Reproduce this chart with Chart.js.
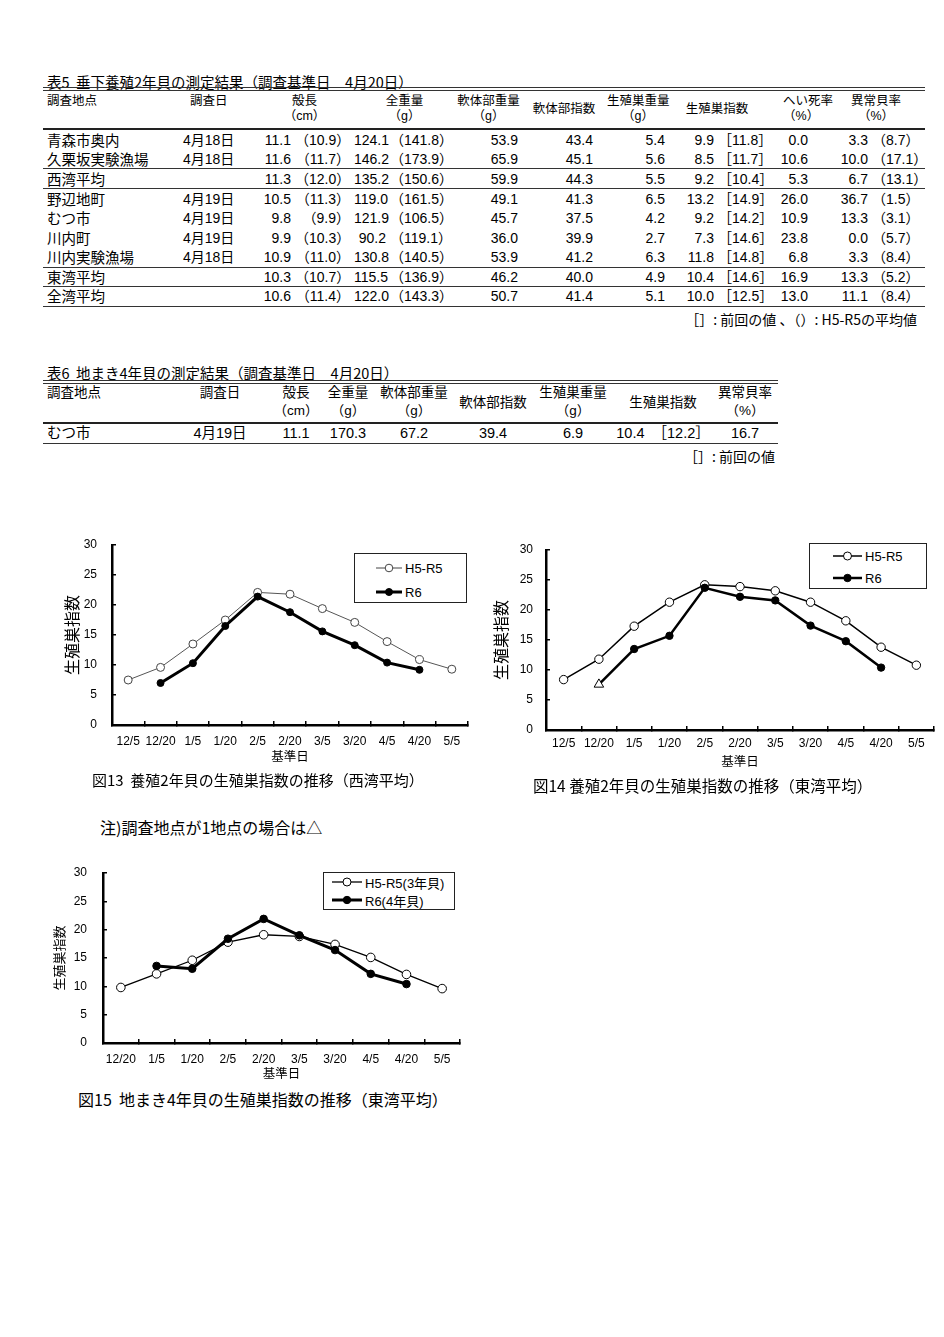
<!DOCTYPE html>
<html lang="ja">
<head>
<meta charset="utf-8">
<title>生殖巣指数の推移</title>
<script src="https://cdn.jsdelivr.net/npm/chart.js@4.4.1/dist/chart.umd.min.js"></script>
<style>
  body { margin: 0; width: 944px; height: 1337px; background: #fff; position: relative; color: #000;
         font-family: "Liberation Sans", "Noto Sans CJK JP", sans-serif; }
  .abs { position: absolute; white-space: nowrap; }
  table { border-collapse: collapse; table-layout: fixed; }
  td, th { padding: 0; white-space: nowrap; font-weight: normal; }

  /* 表5 */
  #t5 { border-top: 4px double #333; }
  #t5 thead th { height: 34px; font-size: 12.5px; line-height: 15px; vertical-align: top; padding-top: 3px; }
  #t5 thead th.mid { vertical-align: middle; padding-top: 0; height: 37px; }
  #t5 thead tr { border-bottom: 2px solid #222; }
  #t5 tbody td { height: 19.8px; font-size: 14px; line-height: 18px; text-align: right; padding-right: 4px; overflow: hidden; }
  #t5 tbody td.name { text-align: left; padding: 0 0 0 4px; font-size: 14.5px; font-family: "Noto Sans CJK JP", sans-serif; }
  #t5 tbody td.date { text-align: left; padding: 0 0 0 3px; }
  #t5 tbody tr.end td { height: 18.5px; }
  #t5 tbody tr.end { border-bottom: 1.5px solid #333; }

  /* 表6 */
  #t6 { border-top: 4px double #333; }
  #t6 thead th { height: 38px; font-size: 13.5px; line-height: 18px; vertical-align: top; text-align: center; }
  #t6 thead th.mid { vertical-align: middle; }
  #t6 thead tr { border-bottom: 2px solid #222; }
  #t6 tbody td { height: 19px; font-size: 14.5px; line-height: 19px; text-align: center; }
  #t6 tbody tr { border-bottom: 1.5px solid #333; }

  .legend { position: absolute; border: 1px solid #222; background: #fff; box-sizing: border-box; }
  .lg-row { display: flex; align-items: center; white-space: nowrap; }
  .lg-row svg { display: block; }
  canvas { position: absolute; }
</style>
</head>
<body>

<!-- 表5 -->
<div class="abs" style="left:47px; top:71px; font-size:14.5px; font-family:'Noto Sans CJK JP',sans-serif;">表5&nbsp;&nbsp;垂下養殖2年貝の測定結果（調査基準日　4月20日）</div>
<table id="t5" class="abs" style="left:43px; top:87px; width:882px;">
  <colgroup>
    <col style="width:137px"><col style="width:75px"><col style="width:40px"><col style="width:59px">
    <col style="width:36px"><col style="width:65px"><col style="width:67px"><col style="width:75px">
    <col style="width:72px"><col style="width:49px"><col style="width:47px"><col style="width:47px">
    <col style="width:60px"><col style="width:53px">
  </colgroup>
  <thead>
    <tr>
      <th style="text-align:left; padding-left:4px;">調査地点</th>
      <th style="text-align:left; padding-left:10px;">調査日</th>
      <th colspan="2">殻長<br>（cm）</th>
      <th colspan="2">全重量<br>（g）</th>
      <th>軟体部重量<br>（g）</th>
      <th class="mid" style="padding-left:9px;">軟体部指数</th>
      <th style="padding-left:10px;">生殖巣重量<br>（g）</th>
      <th colspan="2" class="mid">生殖巣指数</th>
      <th style="padding-left:18px;">へい死率<br>（%）</th>
      <th colspan="2" style="padding-left:15px;">異常貝率<br>（%）</th>
    </tr>
  </thead>
  <tbody>
    <tr><td class="name">青森市奥内</td><td class="date">4月18日</td><td>11.1</td><td>（10.9）</td><td>124.1</td><td>（141.8）</td><td>53.9</td><td>43.4</td><td>5.4</td><td>9.9</td><td>［11.8］</td><td>0.0</td><td>3.3</td><td style="padding-right:8px">（8.7）</td></tr>
    <tr class="end"><td class="name">久栗坂実験漁場</td><td class="date">4月18日</td><td>11.6</td><td>（11.7）</td><td>146.2</td><td>（173.9）</td><td>65.9</td><td>45.1</td><td>5.6</td><td>8.5</td><td>［11.7］</td><td>10.6</td><td>10.0</td><td style="padding-right:8px">（17.1）</td></tr>
    <tr class="end"><td class="name">西湾平均</td><td class="date"></td><td>11.3</td><td>（12.0）</td><td>135.2</td><td>（150.6）</td><td>59.9</td><td>44.3</td><td>5.5</td><td>9.2</td><td>［10.4］</td><td>5.3</td><td>6.7</td><td style="padding-right:8px">（13.1）</td></tr>
    <tr><td class="name">野辺地町</td><td class="date">4月19日</td><td>10.5</td><td>（11.3）</td><td>119.0</td><td>（161.5）</td><td>49.1</td><td>41.3</td><td>6.5</td><td>13.2</td><td>［14.9］</td><td>26.0</td><td>36.7</td><td style="padding-right:8px">（1.5）</td></tr>
    <tr><td class="name">むつ市</td><td class="date">4月19日</td><td>9.8</td><td>（9.9）</td><td>121.9</td><td>（106.5）</td><td>45.7</td><td>37.5</td><td>4.2</td><td>9.2</td><td>［14.2］</td><td>10.9</td><td>13.3</td><td style="padding-right:8px">（3.1）</td></tr>
    <tr><td class="name">川内町</td><td class="date">4月19日</td><td>9.9</td><td>（10.3）</td><td>90.2</td><td>（119.1）</td><td>36.0</td><td>39.9</td><td>2.7</td><td>7.3</td><td>［14.6］</td><td>23.8</td><td>0.0</td><td style="padding-right:8px">（5.7）</td></tr>
    <tr class="end"><td class="name">川内実験漁場</td><td class="date">4月18日</td><td>10.9</td><td>（11.0）</td><td>130.8</td><td>（140.5）</td><td>53.9</td><td>41.2</td><td>6.3</td><td>11.8</td><td>［14.8］</td><td>6.8</td><td>3.3</td><td style="padding-right:8px">（8.4）</td></tr>
    <tr class="end"><td class="name">東湾平均</td><td class="date"></td><td>10.3</td><td>（10.7）</td><td>115.5</td><td>（136.9）</td><td>46.2</td><td>40.0</td><td>4.9</td><td>10.4</td><td>［14.6］</td><td>16.9</td><td>13.3</td><td style="padding-right:8px">（5.2）</td></tr>
    <tr class="end"><td class="name">全湾平均</td><td class="date"></td><td>10.6</td><td>（11.4）</td><td>122.0</td><td>（143.3）</td><td>50.7</td><td>41.4</td><td>5.1</td><td>10.0</td><td>［12.5］</td><td>13.0</td><td>11.1</td><td style="padding-right:8px">（8.4）</td></tr>
  </tbody>
</table>
<div class="abs" style="right:27px; top:309px; font-size:14px; font-family:'Noto Sans CJK JP',sans-serif;">［］: 前回の値 、（）: H5-R5の平均値</div>

<!-- 表6 -->
<div class="abs" style="left:47px; top:362px; font-size:14.5px; font-family:'Noto Sans CJK JP',sans-serif;">表6&nbsp;&nbsp;地まき4年貝の測定結果（調査基準日　4月20日）</div>
<table id="t6" class="abs" style="left:43px; top:380px; width:735px;">
  <colgroup>
    <col style="width:127px"><col style="width:100px"><col style="width:52px"><col style="width:52px">
    <col style="width:80px"><col style="width:78px"><col style="width:82px"><col style="width:98px"><col style="width:66px">
  </colgroup>
  <thead>
    <tr>
      <th style="text-align:left; padding-left:4px;">調査地点</th>
      <th>調査日</th>
      <th>殻長<br>（cm）</th>
      <th>全重量<br>（g）</th>
      <th>軟体部重量<br>（g）</th>
      <th class="mid">軟体部指数</th>
      <th>生殖巣重量<br>（g）</th>
      <th class="mid">生殖巣指数</th>
      <th>異常貝率<br>（%）</th>
    </tr>
  </thead>
  <tbody>
    <tr><td style="text-align:left; padding-left:4px;">むつ市</td><td>4月19日</td><td>11.1</td><td>170.3</td><td>67.2</td><td>39.4</td><td>6.9</td><td>10.4&nbsp;&nbsp;［12.2］</td><td>16.7</td></tr>
  </tbody>
</table>
<div class="abs" style="right:169px; top:446px; font-size:14px; font-family:'Noto Sans CJK JP',sans-serif;">［］: 前回の値</div>

<!-- 図13 -->
<canvas id="fig13" width="430" height="235" style="left:50px; top:535px;"></canvas>
<div id="lg13" class="legend" style="left:354px; top:553px; width:113px; height:50px; padding:2px 0 0 21px;"></div>
<div class="abs" style="left:92px; top:769px; font-size:15px; font-family:'Noto Sans CJK JP',sans-serif;">図13&nbsp;&nbsp;養殖2年貝の生殖巣指数の推移（西湾平均）</div>

<!-- 図14 -->
<canvas id="fig14" width="459" height="235" style="left:485px; top:540px;"></canvas>
<div id="lg14" class="legend" style="left:809px; top:543px; width:118px; height:46px; padding:1px 0 0 23px;"></div>
<div class="abs" style="left:533px; top:774px; font-size:15.5px; font-family:'Noto Sans CJK JP',sans-serif;">図14 養殖2年貝の生殖巣指数の推移（東湾平均）</div>

<div class="abs" style="left:100px; top:815px; font-size:16px; font-family:'Noto Sans CJK JP',sans-serif;">注)調査地点が1地点の場合は△</div>

<!-- 図15 -->
<canvas id="fig15" width="430" height="225" style="left:50px; top:862px;"></canvas>
<div id="lg15" class="legend" style="left:323px; top:872px; width:132px; height:38px; padding:0 0 0 8px;"></div>
<div class="abs" style="left:78px; top:1087px; font-size:16px; font-family:'Noto Sans CJK JP',sans-serif;">図15&nbsp;&nbsp;地まき4年貝の生殖巣指数の推移（東湾平均）</div>

<script>
// ── Data ────────────────────────────────────────────────────────────────────
const dates2yr = ['12/5', '12/20', '1/5', '1/20', '2/5', '2/20', '3/5', '3/20', '4/5', '4/20', '5/5'];
const dates4yr = ['12/20', '1/5', '1/20', '2/5', '2/20', '3/5', '3/20', '4/5', '4/20', '5/5'];

// 図13 西湾平均 (養殖2年貝)
const westPast = [7.5, 9.6, 13.5, 17.5, 22.1, 21.8, 19.4, 17.1, 13.9, 10.9, 9.3];
const westR6   = [null, 7.0, 10.3, 16.5, 21.4, 18.8, 15.6, 13.3, 10.4, 9.2, null];

// 図14 東湾平均 (養殖2年貝)
const eastPast = [8.4, 11.8, 17.3, 21.3, 24.2, 23.9, 23.2, 21.3, 18.2, 13.8, 10.8];
const eastR6   = [null, 7.6, 13.5, 15.7, 23.7, 22.2, 21.6, 17.4, 14.8, 10.4, null];
const eastR6SingleSite = ['12/20'];   // 調査地点が1地点 → △

// 図15 東湾平均 (地まき4年貝)
const jimakiPast = [9.8, 12.2, 14.6, 17.8, 19.1, 18.8, 17.4, 15.1, 12.1, 9.6];
const jimakiR6   = [null, 13.6, 13.1, 18.4, 21.9, 19.0, 16.4, 12.2, 10.4, null];

const yTicks = { min: 0, max: 30, step: 5 };

Chart.defaults.font.family = '"Liberation Sans", "Noto Sans CJK JP", sans-serif';
Chart.defaults.color = '#000';

// ── Shared options ──────────────────────────────────────────────────────────
// axis boxes get fixed sizes so the plot area lands where the original has it
function lineOptions(c) {
  return {
    responsive: false,
    animation: false,
    layout: { padding: { top: c.padTop, right: c.padRight, left: 0, bottom: 0 } },
    plugins: { legend: { display: false }, tooltip: { enabled: false } },
    scales: {
      x: {
        offset: true,
        grid: { offset: true, drawOnChartArea: false, tickLength: -4, color: '#000', lineWidth: 1.5 },
        border: { color: '#000', width: 2.5 },
        ticks: { font: { size: 12 }, padding: c.xTickPad, maxRotation: 0, autoSkip: false },
        title: { display: true, text: '基準日', font: { size: 12.5 }, padding: { top: 0, bottom: c.xTitlePad } },
        afterFit: s => {
          s.height = c.xHeight;
          s.paddingLeft = 0; s.paddingRight = 0;
        },
      },
      y: {
        min: yTicks.min,
        max: yTicks.max,
        ticks: { stepSize: yTicks.step, font: { size: 12 }, padding: c.yTickPad },
        grid: { drawOnChartArea: false, tickLength: -4, color: '#000', lineWidth: 1.5 },
        border: { color: '#000', width: 2.5 },
        title: { display: true, text: '生殖巣指数', font: { size: c.yTitleSize },
                 padding: { top: c.yTitlePad, bottom: 0 } },
        afterFit: s => {
          s.width = c.yWidth;
          s.paddingTop = 0; s.paddingBottom = 0;
        },
      },
    },
  };
}

function pastSet(data, st) {
  return {
    label: 'H5-R5', data, order: 1,
    borderColor: st.line, borderWidth: st.lw,
    pointRadius: st.r, pointBackgroundColor: '#fff', pointBorderColor: st.point, pointBorderWidth: 1,
    tension: 0,
  };
}

function r6Set(data, st) {
  return {
    label: 'R6', data, order: 0,
    borderColor: '#000', borderWidth: st.lw,
    pointRadius: st.r, pointBackgroundColor: st.fill || '#000', pointBorderColor: '#000',
    pointBorderWidth: 1, pointStyle: st.style || 'circle',
    tension: 0,
  };
}

// ── Legends (HTML) ──────────────────────────────────────────────────────────
function buildLegend(id, rowH, lineW, fontSize, items) {
  const box = document.getElementById(id);
  items.forEach(it => {
    const row = document.createElement('div');
    row.className = 'lg-row';
    row.style.height = rowH + 'px';
    row.innerHTML =
      `<svg width="${lineW}" height="12"><line x1="0" y1="6" x2="${lineW}" y2="6" stroke="${it.color}" stroke-width="${it.lw}"/>` +
      `<circle cx="${lineW / 2}" cy="6" r="${it.r}" fill="${it.fill}" stroke="${it.color}" stroke-width="1"/></svg>` +
      `<span style="margin-left:3px; font-size:${fontSize}px;">${it.label}</span>`;
    box.appendChild(row);
  });
}

// ── 図13 ────────────────────────────────────────────────────────────────────
new Chart(document.getElementById('fig13'), {
  type: 'line',
  data: {
    labels: dates2yr,
    datasets: [
      pastSet(westPast, { line: '#555', point: '#444', lw: 1, r: 4 }),
      r6Set(westR6, { lw: 3, r: 3.5 }),
    ],
  },
  options: lineOptions({ padTop: 10, padRight: 12, yWidth: 62, xHeight: 45,
                         xTickPad: 13.8, xTitlePad: 4.5, yTickPad: 19, yTitleSize: 16, yTitlePad: 14.4 }),
});
buildLegend('lg13', 24, 26, 13, [
  { label: 'H5-R5', color: '#444', lw: 1, r: 3.8, fill: '#fff' },
  { label: 'R6', color: '#000', lw: 3, r: 3.5, fill: '#000' },
]);

// ── 図14 ────────────────────────────────────────────────────────────────────
new Chart(document.getElementById('fig14'), {
  type: 'line',
  data: {
    labels: dates2yr,
    datasets: [
      pastSet(eastPast, { line: '#000', point: '#000', lw: 1.5, r: 4.2 }),
      r6Set(eastR6, {
        lw: 2.5,
        r: dates2yr.map(d => eastR6SingleSite.includes(d) ? 5.5 : 3.7),
        fill: dates2yr.map(d => eastR6SingleSite.includes(d) ? '#fff' : '#000'),
        style: dates2yr.map(d => eastR6SingleSite.includes(d) ? 'triangle' : 'circle'),
      }),
    ],
  },
  options: lineOptions({ padTop: 10, padRight: 10, yWidth: 61, xHeight: 45,
                         xTickPad: 10.8, xTitlePad: 4.8, yTickPad: 17, yTitleSize: 16, yTitlePad: 8.4 }),
});
buildLegend('lg14', 22, 29, 13, [
  { label: 'H5-R5', color: '#000', lw: 1.5, r: 4, fill: '#fff' },
  { label: 'R6', color: '#000', lw: 2.5, r: 3.7, fill: '#000' },
]);

// ── 図15 ────────────────────────────────────────────────────────────────────
new Chart(document.getElementById('fig15'), {
  type: 'line',
  data: {
    labels: dates4yr,
    datasets: [
      pastSet(jimakiPast, { line: '#000', point: '#000', lw: 1.3, r: 4.3 }),
      r6Set(jimakiR6, { lw: 3, r: 3.8 }),
    ],
  },
  options: lineOptions({ padTop: 11, padRight: 20, yWidth: 53, xHeight: 44,
                         xTickPad: 13.5, xTitlePad: 5.1, yTickPad: 20, yTitleSize: 13, yTitlePad: 2.2 }),
});
buildLegend('lg15', 18, 30, 13, [
  { label: 'H5-R5(3年貝)', color: '#000', lw: 1.3, r: 4, fill: '#fff' },
  { label: 'R6(4年貝)', color: '#000', lw: 3, r: 3.7, fill: '#000' },
]);
</script>
</body>
</html>
